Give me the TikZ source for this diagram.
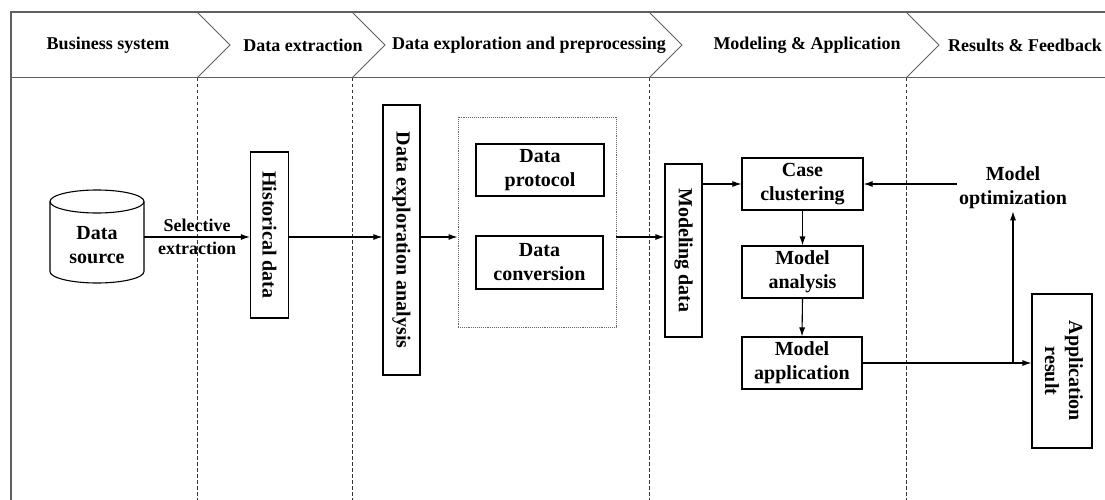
\documentclass[tikz,border=0pt]{standalone}
\usepackage{fontspec}
\setmainfont{Liberation Serif}
\usetikzlibrary{shapes,arrows,positioning,calc,arrows.meta}

\begin{document}
\begin{tikzpicture}[x=1pt, y=-1pt, font=\bfseries\fontsize{20}{24}\selectfont,
    box/.style={draw, line width=1.1pt, align=center, inner sep=2pt},
    vbox/.style={draw, line width=1.1pt, inner sep=0pt},
    flow/.style={-{Latex[length=9pt,width=6pt]}, line width=1.1pt},
    hdr/.style={font=\bfseries\fontsize{18}{22}\selectfont},
    lane/.style={gray!40!black, dash pattern=on 3.5pt off 2.5pt, line width=0.9pt},
    chev/.style={gray!75!black, line width=1pt}]
    \useasboundingbox (0,0) rectangle (1105,500);

    % Header band with chevrons
    \draw [chev, line width=1.4pt] (1105,12) -- (11,12) -- (11,500);
    \draw [chev] (11,78) -- (1105,78);
    \foreach \x in {197,352,649,906} \draw [chev] (\x,12) -- (\x+33,45) -- (\x,78);
    \foreach \x in {197,352,649,906} \draw [lane] (\x,78) -- (\x,500); % lane separators

    \node [hdr] (hbus) at (108,45) {Business system};
    \node [hdr] (hext) at (303,45) {Data extraction};
    \node [hdr] (hpre) at (529,45) {Data exploration and preprocessing};
    \node [hdr] (hmod) at (807,45) {Modeling \& Application};
    \node [hdr] (hres) at (1025,45) {Results \& Feedback};

    % Business system and extraction
    \node [align=center, minimum width=94pt] (src) at (97,245) {Data\\source};
    \draw [line width=1.1pt] (97,201.5) ellipse [x radius=47, y radius=11.5]; % data store
    \draw [line width=1.1pt] (50,201.5) -- (50,271.5) arc [start angle=180, end angle=0, x radius=47, y radius=11.5] -- (144,201.5);
    \node [vbox, minimum width=38pt, minimum height=166pt] (hist) at (269.5,235) {\rotatebox{-90}{Historical data}};
    \coordinate (lvl) at (0,237);

    % Exploration and preprocessing
    \node [vbox, minimum width=37pt, minimum height=270pt] (expl) at (401.5,240) {\rotatebox{-90}{Data exploration analysis}};
    \node [draw=gray!80!black, densely dotted, line width=0.9pt, minimum width=158pt, minimum height=210pt] (grp) at (537,222) {};
    \node [box, minimum width=128pt, minimum height=52pt] (prot) at (540,170) {Data\\protocol};
    \node [box, minimum width=127pt, minimum height=53pt] (conv) at (539.5,262.5) {Data\\conversion};

    % Modeling
    \node [vbox, minimum width=37pt, minimum height=173pt] (mdl) at (683.5,250.5) {\rotatebox{-90}{Modeling data}};
    \node [box, minimum width=121pt, minimum height=52pt] (case) at (802.5,184) {Case\\clustering};
    \node [box, minimum width=121pt, minimum height=52pt] (anal) at (802.5,272) {Model\\analysis};
    \node [box, minimum width=120pt, minimum height=52pt] (appl) at (802,363) {Model\\application};

    % Results
    \node [vbox, minimum width=60pt, minimum height=154pt] (res) at (1062,371)
        {\rotatebox{-90}{\begin{tabular}{@{}c@{}}Application\\result\end{tabular}}};
    \node [align=center, inner sep=2pt] (opt) at (1013,188) {Model\\optimization};

    % Flow
    \draw [flow] (src.east |- lvl) -- (hist.west |- lvl)
        node [midway, align=center, font=\bfseries\fontsize{18}{23}\selectfont] (selx) {Selective\\extraction};
    \draw [flow] (hist.east |- lvl) -- (expl.west |- lvl);
    \draw [flow] (expl.east |- lvl) -- (grp.west |- lvl);
    \draw [flow] (grp.east |- lvl) -- (mdl.west |- lvl);
    \draw [flow] (mdl.east |- case.west) -- (case.west);
    \draw [flow] (case.south) -- (anal.north);
    \draw [flow] (anal.south) -- (appl.north);
    \draw [flow] (appl.east) -- (appl.east -| res.west);
    \draw [flow] (appl.east -| opt.south) -- (opt.south);
    \draw [flow] (opt.west |- case.east) -- (case.east);
\end{tikzpicture}
\end{document}
